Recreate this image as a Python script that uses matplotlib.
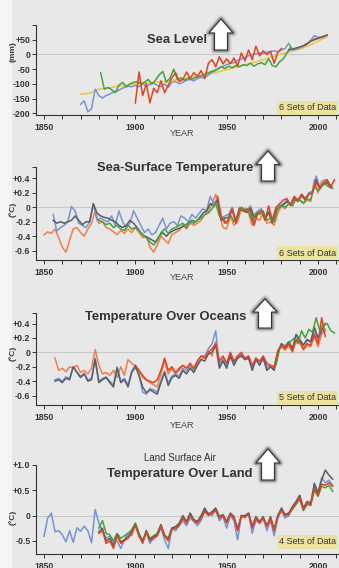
import matplotlib.pyplot as plt
import numpy as np
from matplotlib.patches import Polygon, Rectangle

plt.rcParams['font.family'] = ['Liberation Sans', 'DejaVu Sans']

W, H = 339, 568

# ---------------- data ----------------
# sea level (mm); each series: first year, step, values
sl_yellow = (1870, 5, [-135, -132, -118, -115, -108, -105, -100, -98, -95, -92, -88, -85, -80, -74,
                       -67, -60, -52, -44, -35, -27, -18, -8, 2, 10, 18, 30, 45, 60])
sl_blue = (1870, 2, [-170, -158, -195, -185, -118, -140, -148, -140, -135, -128, -125, -118, -112, -108,
                     -110, -105, -110, -100, -108, -102, -98, -105, -110, -100, -112, -95, -92, -100,
                     -95, -88, -85, -90, -82, -78, -80, -70, -60, -55, -45, -40, -35, -30, -28, -20,
                     -15, -10, -5, 0, 2, 5, 3, 8, 10, 12, 8, 15, 20, 38, 15, 18, 22, 28, 35, 48, 64,
                     58, 60, 62])
sl_green = (1881, 2, [-63, -118, -112, -120, -130, -105, -95, -110, -100, -95, -92, -100, -95, -85,
                      -100, -88, -70, -58, -95, -80, -50, -85, -80, -88, -80, -85, -78, -75, -70,
                      -65, -60, -55, -50, -42, -48, -40, -45, -38, -42, -35, -38, -30, -40, -32,
                      -28, -35, -15, -38, -42, -25, -15, 5, 25])
sl_red = (1900, 2, [-165, -60, -140, -100, -165, -115, -130, -90, -130, -105, -80, -62, -92, -85,
                    -60, -82, -62, -75, -55, -82, -30, -18, -42, -8, -32, -15, -32, -12, -40, 5,
                    -22, 15, -18, 28, -5, 12, 0, 10, -30, 8, 20])
sl_gray = (1984, 3, [15, 20, 25, 32, 45, 52, 58, 66])
sl_orange = (1993, 2, [35, 40, 50, 55, 58, 62, 66])

# sea-surface temperature (deg C)
sst_salmon = (1850, 2, [-0.38, -0.34, -0.36, -0.30, -0.42, -0.55, -0.62, -0.45, -0.30, -0.28, -0.35,
                        -0.40, -0.30, -0.22, -0.05, -0.22, -0.20, -0.28, -0.30, -0.34, -0.38, -0.32,
                        -0.36, -0.30, -0.35, -0.28, -0.35, -0.42, -0.40, -0.55, -0.62, -0.52, -0.40,
                        -0.45, -0.50, -0.38, -0.35, -0.32, -0.25, -0.30, -0.22, -0.25, -0.22, -0.18,
                        -0.10, -0.05, 0.05, 0.18, -0.10, -0.28, -0.30, -0.12, -0.25, -0.20, -0.02,
                        -0.05, -0.08, -0.25, -0.15, -0.18, -0.08, -0.22, -0.20, -0.25, -0.08, 0.02,
                        -0.02, 0.05, 0.02, 0.12, 0.10, 0.05, 0.10, 0.08, 0.38, 0.20, 0.36, 0.38,
                        0.32, 0.28])
sst_blue = (1855, 2, [-0.10, -0.33, -0.28, -0.25, -0.20, 0.01, -0.05, -0.22, -0.25, -0.28, -0.20,
                      0.05, -0.18, -0.15, -0.18, -0.20, -0.12, -0.25, -0.05, -0.20, -0.28, -0.22,
                      -0.05, -0.15, -0.25, -0.35, -0.30, -0.38, -0.35, -0.25, -0.15, -0.30, -0.22,
                      -0.20, -0.25, -0.12, -0.15, -0.20, -0.10, -0.15, -0.08, -0.02, -0.05, 0.15,
                      0.05, 0.12, -0.15, -0.12, -0.10, 0.00, -0.18, 0.00, -0.02, -0.05, 0.02, -0.12,
                      -0.05, -0.02, -0.15, -0.05, -0.20, -0.02, 0.02, 0.05, 0.10, 0.05, 0.15, 0.10,
                      0.18, 0.12, 0.20, 0.22, 0.43, 0.28, 0.35, 0.38, 0.30])
sst_gray = (1855, 2, [-0.18, -0.22, -0.20, -0.22, -0.20, -0.18, -0.12, -0.18, -0.24, -0.20, -0.20,
                      0.05, -0.08, -0.12, -0.14, -0.15, -0.18, -0.20, -0.25, -0.28, -0.25, -0.18,
                      -0.22, -0.28, -0.35, -0.40, -0.42, -0.45, -0.48, -0.40, -0.35, -0.40, -0.35,
                      -0.32, -0.30, -0.28, -0.25, -0.22, -0.18, -0.20, -0.15, -0.08, -0.05, 0.05,
                      0.02, 0.10, -0.18, -0.15, -0.14, -0.03, -0.20, -0.03, -0.05, -0.07, -0.01,
                      -0.15, -0.08, -0.05, -0.17, -0.07, -0.22, -0.04, 0.00, 0.03, 0.08, 0.03, 0.12,
                      0.08, 0.16, 0.10, 0.18, 0.20, 0.38, 0.26, 0.32, 0.34, 0.27])
sst_green = (1880, 2, [-0.18, -0.20, -0.24, -0.22, -0.28, -0.25, -0.30, -0.32, -0.25, -0.30, -0.28,
                       -0.32, -0.38, -0.42, -0.48, -0.52, -0.46, -0.35, -0.30, -0.36, -0.30, -0.28,
                       -0.25, -0.22, -0.28, -0.20, -0.22, -0.18, -0.15, -0.10, -0.08, -0.02, 0.05,
                       -0.12, -0.15, -0.22, -0.10, -0.20, -0.15, 0.00, -0.03, -0.05, -0.20, -0.08,
                       -0.10, -0.05, -0.18, -0.15, -0.20, -0.02, 0.03, 0.00, 0.05, 0.02, 0.12, 0.10,
                       0.06, 0.12, 0.10, 0.30, 0.22, 0.30, 0.32, 0.28, 0.26])
sst_red = (1945, 2, [0.15, -0.12, -0.22, -0.18, -0.02, -0.22, -0.02, -0.05, -0.02, -0.05, -0.25,
                     -0.08, -0.05, -0.18, 0.02, -0.18, 0.00, 0.05, 0.10, 0.12, 0.02, 0.15, 0.08,
                     0.18, 0.12, 0.18, 0.20, 0.35, 0.25, 0.33, 0.38, 0.28, 0.38])

# temperature over oceans (deg C)
oc_salmon = (1856, 2, [-0.08, -0.25, -0.22, -0.27, -0.20, -0.22, -0.18, -0.28, -0.25, -0.30, -0.22,
                       0.04, -0.18, -0.30, -0.28, -0.32, -0.25, -0.35, -0.20, -0.32, -0.10, -0.15,
                       -0.20, -0.25, -0.35, -0.38, -0.42, -0.45, -0.48, -0.30, -0.12, -0.30, -0.22,
                       -0.30, -0.25, -0.18, -0.22, -0.20, -0.25, -0.15, -0.10, -0.05, 0.02, -0.05,
                       0.15, -0.15, -0.10, -0.18, -0.02, -0.15, -0.08, -0.03, -0.10, -0.08, -0.20,
                       -0.10, -0.14, -0.06, -0.18, -0.20, -0.22, 0.00, 0.08, 0.03, 0.10, 0.00, 0.16,
                       0.13, 0.03, 0.10, 0.08, 0.22, 0.08, 0.25, 0.30])
oc_gray = (1856, 2, [-0.40, -0.38, -0.42, -0.36, -0.38, -0.20, -0.28, -0.35, -0.30, -0.40, -0.38,
                     -0.10, -0.42, -0.38, -0.35, -0.42, -0.48, -0.22, -0.42, -0.38, -0.48, -0.28,
                     -0.20, -0.32, -0.48, -0.56, -0.52, -0.55, -0.58, -0.42, -0.28, -0.46, -0.35,
                     -0.32, -0.36, -0.25, -0.30, -0.22, -0.28, -0.18, -0.10, -0.12, -0.02, 0.00,
                     0.10, -0.22, -0.12, -0.22, -0.05, -0.18, -0.08, -0.05, -0.10, -0.08, -0.25,
                     -0.10, -0.18, -0.08, -0.25, -0.20, -0.25, 0.00, 0.12, 0.08, 0.15, 0.05, 0.25,
                     0.18, 0.10, 0.18, 0.15, 0.35, 0.20, 0.30, 0.40])
oc_blue = (1856, 2, [-0.38, -0.36, -0.40, -0.34, -0.36, -0.20, -0.27, -0.33, -0.29, -0.38, -0.36,
                     -0.08, -0.40, -0.36, -0.34, -0.40, -0.45, -0.20, -0.40, -0.36, -0.45, -0.26,
                     -0.18, -0.30, -0.55, -0.58, -0.50, -0.52, -0.55, -0.40, -0.26, -0.43, -0.33,
                     -0.30, -0.33, -0.22, -0.26, -0.18, -0.24, -0.12, -0.05, -0.05, 0.05, 0.12,
                     0.30, -0.18, -0.08, -0.18, -0.02, -0.15, -0.05, -0.03, -0.08, -0.06, -0.22,
                     -0.08, -0.15, -0.06, -0.22, -0.18, -0.22, 0.02, 0.12, 0.08, 0.14, 0.04, 0.22,
                     0.16, 0.10, 0.16, 0.14, 0.30, 0.18, 0.26, 0.32])
oc_red = (1900, 2, [-0.18, -0.25, -0.32, -0.38, -0.40, -0.42, -0.38, -0.25, -0.08, -0.25, -0.20,
                    -0.28, -0.22, -0.18, -0.22, -0.15, -0.22, -0.12, -0.05, -0.08, 0.00, 0.05, 0.12,
                    -0.12, -0.05, -0.15, 0.00, -0.12, -0.05, 0.00, -0.08, -0.05, -0.18, -0.08,
                    -0.12, -0.05, -0.15, -0.18, -0.20, 0.02, 0.10, 0.05, 0.12, 0.02, 0.18, 0.15,
                    0.05, 0.12, 0.10, 0.25, 0.12, 0.48, 0.22])
oc_green = (1975, 2, [-0.20, -0.18, 0.05, 0.10, 0.08, 0.15, 0.20, 0.12, 0.30, 0.20, 0.32, 0.28,
                      0.48, 0.30, 0.38, 0.40, 0.30, 0.27])

# land surface air temperature (deg C)
ld_blue = (1850, 2, [-0.41, -0.05, 0.05, -0.32, -0.30, -0.38, -0.52, -0.30, -0.53, -0.24, -0.31,
                     -0.21, -0.30, -0.54, 0.12, -0.15, -0.30, -0.45, -0.40, -0.55, -0.50, -0.65,
                     -0.48, -0.35, -0.40, -0.15, -0.42, -0.50, -0.35, -0.55, -0.45, -0.40, -0.25,
                     -0.48, -0.65, -0.25, -0.30, -0.20, -0.10, -0.20, -0.05, -0.12, -0.20, -0.10,
                     0.10, 0.05, 0.00, 0.12, -0.10, -0.02, -0.25, 0.00, -0.10, -0.48, 0.00, -0.05,
                     0.05, -0.35, -0.10, -0.15, -0.05, -0.30, -0.10, -0.40, -0.05, 0.10, -0.05,
                     0.00, 0.15, 0.25, 0.40, 0.10, 0.25, 0.20, 0.65, 0.45, 0.75, 0.65, 0.70, 0.60])
ld_green = (1880, 2, [-0.25, -0.10, -0.35, -0.38, -0.50, -0.35, -0.45, -0.40, -0.35, -0.28, -0.15,
                      -0.35, -0.50, -0.30, -0.45, -0.40, -0.35, -0.18, -0.38, -0.45, -0.25, -0.22,
                      -0.18, -0.05, -0.12, 0.02, -0.08, -0.12, -0.02, 0.10, 0.02, 0.05, 0.12,
                      -0.05, 0.00, -0.12, 0.03, -0.05, -0.25, -0.02, -0.02, 0.02, -0.20, -0.05,
                      -0.12, -0.05, -0.20, -0.05, -0.28, 0.00, 0.12, 0.00, 0.05, 0.12, 0.22, 0.32,
                      0.10, 0.22, 0.20, 0.50, 0.38, 0.58, 0.55, 0.60, 0.48])
ld_gray = (1880, 2, [-0.32, -0.25, -0.50, -0.45, -0.60, -0.38, -0.52, -0.48, -0.42, -0.32, -0.18,
                     -0.38, -0.52, -0.30, -0.48, -0.42, -0.38, -0.18, -0.40, -0.48, -0.25, -0.22,
                     -0.15, 0.00, -0.12, 0.05, -0.08, -0.12, 0.00, 0.15, 0.02, 0.08, 0.15, -0.02,
                     0.02, -0.12, 0.05, -0.02, -0.28, 0.00, 0.00, 0.05, -0.22, -0.02, -0.12, -0.02,
                     -0.20, -0.02, -0.28, 0.00, 0.15, 0.02, 0.05, 0.18, 0.28, 0.40, 0.15, 0.28, 0.25,
                     0.62, 0.45, 0.70, 0.90, 0.80, 0.72])
ld_red = (1880, 2, [-0.35, -0.30, -0.55, -0.50, -0.65, -0.40, -0.55, -0.50, -0.45, -0.35, -0.20,
                    -0.40, -0.55, -0.32, -0.50, -0.45, -0.40, -0.20, -0.40, -0.50, -0.28, -0.25,
                    -0.20, -0.05, -0.15, 0.00, -0.10, -0.15, -0.05, 0.08, 0.00, 0.05, 0.10, -0.05,
                    0.00, -0.15, 0.02, -0.05, -0.30, -0.02, -0.02, 0.02, -0.25, -0.05, -0.15,
                    -0.05, -0.22, -0.05, -0.30, -0.02, 0.10, 0.00, 0.02, 0.15, 0.25, 0.35, 0.12,
                    0.25, 0.22, 0.55, 0.40, 0.62, 0.60, 0.65, 0.58])

BLUE, RED, GREEN = '#7593d6', '#e8401e', '#3fa63c'
SALMON, YELLOW, GRAY = '#f47d45', '#f2c23a', '#5a5d62'


def px(x, y):
    return x / W, 1 - y / H


def draw(ax, series, color, lw=1.1):
    start, step, vals = series
    years = start + step * np.arange(len(vals))
    ax.plot(years, vals, color=color, lw=lw, solid_joinstyle='round')


def up_arrow(fig, cx, top, w=24, h=31):
    sw = w * 0.27
    pts = [(cx, top), (cx + w / 2, top + h * 0.45), (cx + sw, top + h * 0.45),
           (cx + sw, top + h), (cx - sw, top + h), (cx - sw, top + h * 0.45),
           (cx - w / 2, top + h * 0.45)]
    pts = [px(x, y) for x, y in pts]
    for lw, a in [(6, 0.08), (4, 0.15), (2.5, 0.3)]:
        fig.add_artist(Polygon(pts, closed=True, transform=fig.transFigure, facecolor='none',
                               edgecolor='#222222', lw=lw, alpha=a, joinstyle='round'))
    fig.add_artist(Polygon(pts, closed=True, transform=fig.transFigure, facecolor='white',
                           edgecolor='#333333', lw=0.8))


fig = plt.figure(figsize=(W / 100, H / 100), dpi=100)
fig.patch.set_facecolor('#e8e8e8')
fig.add_artist(Rectangle((0, 0), 12 / W, 1, transform=fig.transFigure, facecolor='white',
                         alpha=0.6, edgecolor='none'))


def panel(top, bottom, ylim, yticks, ylabels, ylab, ylab_y, sets, sets_y, year_y):
    ax = fig.add_axes([36 / W, 1 - bottom / H, 1 - 36 / W, (bottom - top) / H])
    ax.set_facecolor('none')
    ax.set_xlim(1845.6, 2011.5)
    ax.set_ylim(*ylim)
    ax.axhline(0, color='#c9c9c9', lw=0.8, zorder=0)
    for s in ['top', 'right']:
        ax.spines[s].set_visible(False)
    for s in ['left', 'bottom']:
        ax.spines[s].set_color('#333333')
        ax.spines[s].set_linewidth(0.8)
    ax.set_xticks([1850, 1900, 1950, 2000])
    ax.set_xticklabels(['1850', '1900', '1950', '2000'], fontsize=6.2, fontweight='bold',
                       color='#333333')
    ax.set_xticks(np.arange(1850, 2011, 10), minor=True)
    ax.tick_params(axis='x', which='both', length=3, width=0.7, color='#333333', pad=3)
    ax.set_yticks(yticks)
    ax.set_yticklabels(ylabels, fontsize=6.3, fontweight='bold', color='#333333')
    ax.tick_params(axis='y', length=3, width=0.7, color='#333333', pad=1)
    fig.text(*px(13, ylab_y), ylab, rotation=90, ha='center', va='center', fontsize=6,
             fontweight='bold', color='#333333')
    fig.text(*px(279, sets_y), sets, ha='left', va='center', fontsize=6.5, color='#333333',
             bbox=dict(facecolor='#ebe39f', edgecolor='none', boxstyle='square,pad=0.25'))
    if year_y:
        fig.text(*px(182, year_y), 'YEAR', ha='center', va='center', fontsize=6.5,
                 color='#444444')
    return ax


# sea level
ax1 = panel(25, 115, (-206, 100), [100, 50, 0, -50, -100, -150, -200],
            ['', '+50', '0', '-50', '-100', '-150', '-200'], '(mm)', 52,
            '6 Sets of Data', 108, 134)
draw(ax1, sl_yellow, YELLOW)
draw(ax1, sl_blue, BLUE)
draw(ax1, sl_green, GREEN)
draw(ax1, sl_red, RED)
draw(ax1, sl_orange, SALMON)
draw(ax1, sl_gray, GRAY)
fig.text(*px(177, 40), 'Sea Level', ha='center', va='center', fontsize=9.4,
         fontweight='bold', color='#333333')
up_arrow(fig, 221, 19)

# sea-surface temperature
ax2 = panel(166.7, 260, (-0.728, 0.56), [0.56, 0.4, 0.2, 0, -0.2, -0.4, -0.6],
            ['', '+0.4', '+0.2', '0', '-0.2', '-0.4', '-0.6'], '(°C)', 209,
            '6 Sets of Data', 253, 278)
draw(ax2, sst_salmon, SALMON)
draw(ax2, sst_blue, BLUE)
draw(ax2, sst_gray, GRAY)
draw(ax2, sst_green, GREEN)
draw(ax2, sst_red, RED)
fig.text(*px(175, 168), 'Sea-Surface Temperature', ha='center', va='center', fontsize=9.4,
         fontweight='bold', color='#333333')
up_arrow(fig, 268, 151, h=30)

# temperature over oceans
ax3 = panel(312.7, 405, (-0.73, 0.55), [0.55, 0.4, 0.2, 0, -0.2, -0.4, -0.6],
            ['', '+0.4', '+0.2', '0', '-0.2', '-0.4', '-0.6'], '(°C)', 353,
            '5 Sets of Data', 398, 425)
draw(ax3, oc_salmon, SALMON)
draw(ax3, oc_blue, BLUE)
draw(ax3, oc_gray, GRAY)
draw(ax3, oc_green, GREEN)
draw(ax3, oc_red, RED)
fig.text(*px(166, 317), 'Temperature Over Oceans', ha='center', va='center', fontsize=9.4,
         fontweight='bold', color='#333333')
up_arrow(fig, 265, 299, h=29)

# temperature over land
ax4 = panel(465, 554, (-0.76, 1.0), [1.0, 0.5, 0, -0.5],
            ['+1.0', '+0.5', '0', '-0.5'], '(°C)', 517,
            '4 Sets of Data', 542, None)
draw(ax4, ld_blue, BLUE)
draw(ax4, ld_green, GREEN)
draw(ax4, ld_gray, GRAY)
draw(ax4, ld_red, RED)
fig.text(*px(180, 458), 'Land Surface Air', ha='center', va='center', fontsize=7,
         color='#333333')
fig.text(*px(180, 474), 'Temperature Over Land', ha='center', va='center', fontsize=9.4,
         fontweight='bold', color='#333333')
up_arrow(fig, 268, 449)

fig.savefig('out.png', dpi=100, facecolor=fig.get_facecolor())
